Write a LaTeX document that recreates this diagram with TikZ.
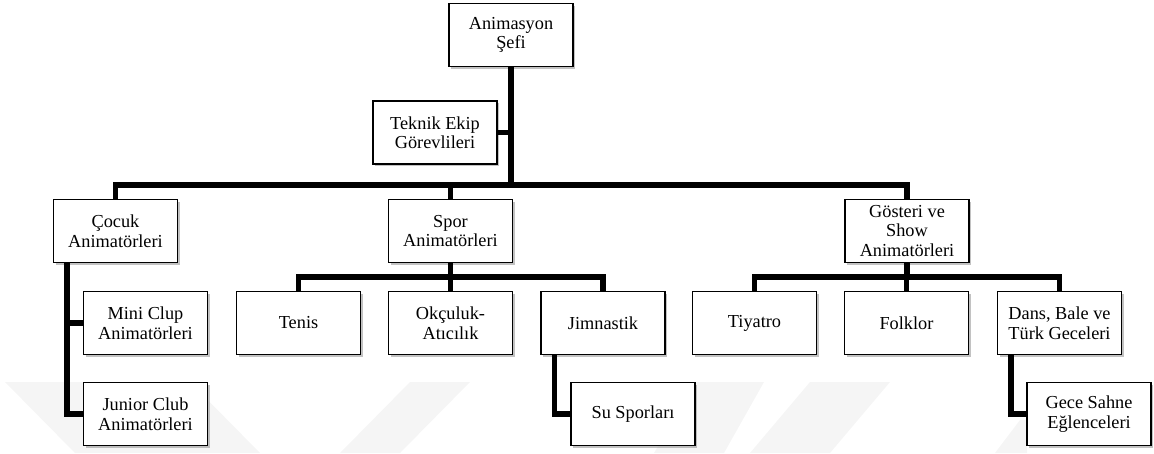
\documentclass[tikz,border=0pt]{standalone}
\usepackage{fontspec}
\setmainfont{Liberation Serif}
\usetikzlibrary{shadows}
\begin{document}
\begin{tikzpicture}[x=1pt,y=-1pt,
  box/.style={draw=black, line width=1.5pt, fill=white, minimum width=124pt, minimum height=63pt,
    align=center, inner sep=2pt, font=\fontsize{18.3}{19.5}\selectfont,
    drop shadow={shadow xshift=2pt, shadow yshift=-2pt, fill=black!40, opacity=0.6}},
  conn/.style={line width=5.5pt, draw=black},
  wm/.style={fill=black!4, draw=none}]
\useasboundingbox (0,0) rectangle (1154,453);
% faint watermark shapes
\fill[wm] (5,382) -- (190,382) -- (260,453) -- (75,453) -- cycle;
\fill[wm] (410,382) -- (470,382) -- (400,453) -- (340,453) -- cycle;
\fill[wm] (697,382) -- (764,382) -- (724,453) -- (654,453) -- cycle;
\fill[wm] (810,382) -- (890,382) -- (830,453) -- (750,453) -- cycle;
\fill[wm] (1020,420) -- (1027,420) -- (1027,453) -- (995,453) -- cycle;
% boxes
\node[box] (sefi) at (511,35) {Animasyon\\Şefi};
\node[box] (teknik) at (435,132.5) {Teknik Ekip\\Görevlileri};
\node[box] (cocuk) at (115.5,231) {Çocuk\\Animatörleri};
\node[box] (spor) at (450.5,231) {Spor\\Animatörleri};
\node[box] (goster) at (907,231) {Gösteri ve\\Show\\Animatörleri};
\node[box] (mini) at (145.5,323) {Mini Clup\\Animatörleri};
\node[box] (tenis) at (298.5,323) {Tenis};
\node[box] (okcu) at (450.5,323) {Okçuluk-\\Atıcılık};
\node[box] (jimn) at (603,323) {Jimnastik};
\node[box] (tiyatro) at (754.5,323) {Tiyatro};
\node[box] (folklor) at (906.5,323) {Folklor};
\node[box] (dans) at (1059.5,323) {Dans, Bale ve\\Türk Geceleri};
\node[box] (junior) at (145.5,414) {Junior Club\\Animatörleri};
\node[box] (su) at (633,414) {Su Sporları};
\node[box] (gece) at (1089,414) {Gece Sahne\\Eğlenceleri};
% bus levels
\coordinate (b1) at (0,185);
\coordinate (b2) at (0,277);
% connectors
\draw[conn] (sefi.south) -- (sefi.south |- b1);
\draw[conn] (teknik.east) -- (teknik.east -| sefi.south);
\draw[conn] (cocuk.north) -- (cocuk.north |- b1) -| (goster.north);
\draw[conn] (spor.north) -- (spor.north |- b1);
\draw[conn] (tenis.north) -- (tenis.north |- b2) -| (jimn.north);
\draw[conn] (spor.south) -- (okcu.north);
\draw[conn] (tiyatro.north) -- (tiyatro.north |- b2) -| (dans.north);
\draw[conn] (goster.south) -- (goster.south |- b2);
\draw[conn] (folklor.north) -- (folklor.north |- b2);
\coordinate (cl) at ([xshift=14pt]cocuk.south west);
\draw[conn] (cl) |- (junior.west);
\draw[conn] (cl |- mini.west) -- (mini.west);
\coordinate (jl) at ([xshift=14pt]jimn.south west);
\draw[conn] (jl) |- (su.west);
\coordinate (dl) at ([xshift=14pt]dans.south west);
\draw[conn] (dl) |- (gece.west);
\end{tikzpicture}
\end{document}
